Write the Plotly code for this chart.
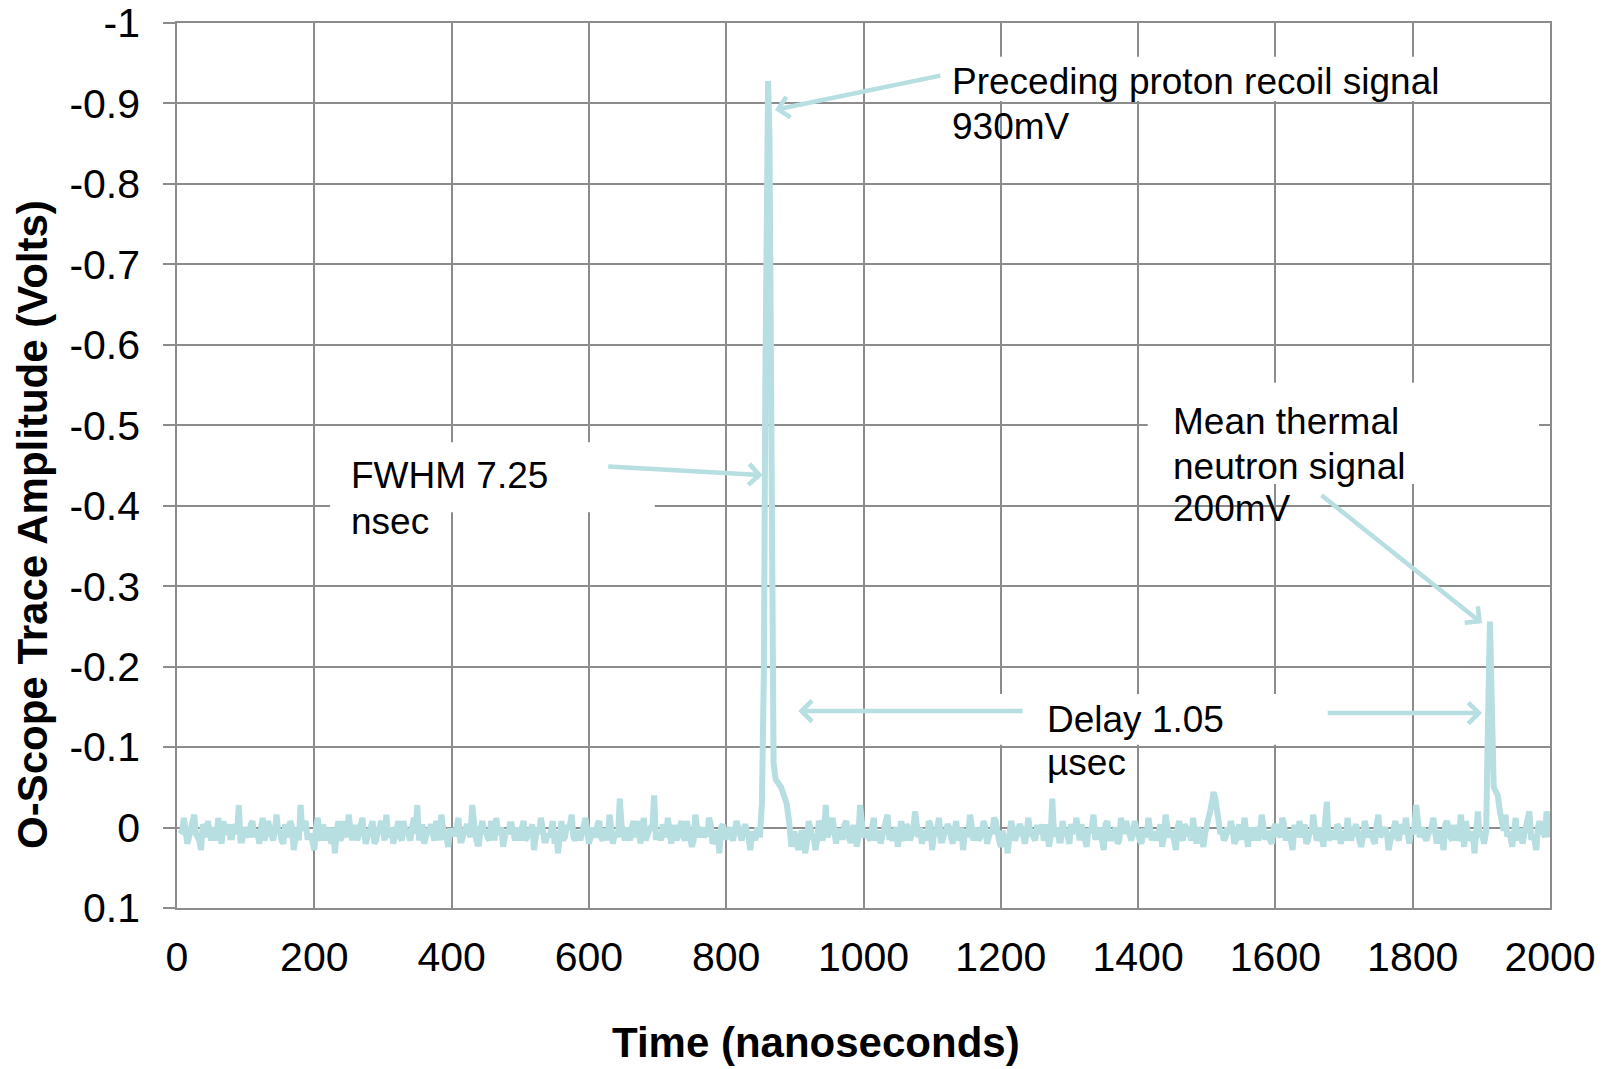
import plotly.graph_objects as go

# ---------------- data ----------------
# baseline noise, mV. Series A sampled at 5, 10, 15 ... ns; series B at 7.5, 12.5, ... ns.
# (zeros inside the two pulse windows are placeholders and are replaced by the pulses)
noise_a_start_ns = 5
noise_b_start_ns = 7.5
noise_step_ns = 5
noise_a_mv = (
    [8, -12, 20, 4, -16, 12, 28, 0, -8, 16, 4, -12, 20, 8, -4, 12, 0, -28, 16, 4]
    + [12, -8, 4, 20, -12, 8, 0, 16, -16, 4, 20, 8, -8, 28, 0, -28, -4, 12, 8, 28]
    + [-12, 16, 4, 0, 20, 32, -8, 12, 4, -16, 16, 0, 8, -12, 20, 4, -8, 16, 0, 12]
    + [-16, 8, 20, 0, 12, -8, 4, 16, -12, -28, 8, 20, 4, -4, 16, 0, -16, 12, 24, 4]
    + [8, -12, 16, 0, 4, -28, 12, 20, -8, 4, 16, 0, -12, 8, 24, 4, -4, 12, 0, 16]
    + [-8, 12, 4, 28, 0, -12, 16, 8, 4, 20, 32, -8, 12, 0, -16, 16, 4, 8, -12, 20]
    + [0, 12, -8, 16, 4, -16, 20, 8, -36, 12, 0, 16, -8, 4, 20, -12, 8, 0, -40, 12]
    + [16, 4, -12, 20, 0, 8, -8, 16, 4, 24, -16, 12, 0, 8, -12, 20, 4, 32, -4, 12]
    + [0, 16, -8, 12, 4, 4, 28, 8, 0, 0, 0, 0, 0, 0, 0, 0, 0, 0, 24, 8]
    + [28, 4, 32, -8, 12, 28, -8, 16, -28, 8, -12, 20, 4, 12, -8, 16, 0, 24, -28, 12]
    + [4, 16, -12, 8, 20, 0, -16, 12, 4, 24, -8, 16, 0, 8, -20, 12, 20, 4, -8, 28]
    + [8, -12, 16, 4, 0, 20, -8, 12, 28, 4, -16, 16, 0, 12, -8, 20, 4, -12, 8, 24]
    + [12, 32, -8, 16, 4, 0, 20, -12, 8, 16, 0, -4, 12, 24, -36, 8, 16, -8, 4, 20]
    + [0, -12, 16, 8, 24, 4, -16, 12, 0, 28, -8, 16, 4, 20, -12, 8, 0, 16, -8, 12]
    + [20, 4, -12, 16, 8, 0, 24, -16, 12, 4, 28, -8, 16, 0, 8, -12, 20, 4, 24, -8]
    + [-20, -44, -24, 8, 16, 0, -8, 20, 4, 12, -12, 24, 8, 0, 16, -16, 12, 4, 20, -4]
    + [8, -12, 16, 4, 28, 0, -8, 12, 20, 4, -16, 16, 0, 24, -32, 8, 12, -4, 20, 4]
    + [-12, 16, 0, 8, 24, -8, 12, 4, 20, -16, 8, 0, 28, 12, -8, 16, 4, -12, 20, 8]
    + [-28, 12, 0, 16, 4, -12, 20, 8, 28, -8, 12, 0, 16, -16, 24, 4, 8, 32, -20, 4]
    + [0, 0, 0, 0, 0, 0, -16, 8, 24, -12, 4, 20, 0, -20, 12, 28, -8, 4, -20, 12]
)
noise_b_mv = (
    [4, 0, 12, -8, 8, 16, -4, 12, 4, 0, 16, 8, -8, 4, 12, -4, 8, 16, 0, 8]
    + [-4, 12, 8, 0, 16, -8, 12, 4, 8, 16, -4, 12, 0, 8, 16, 4, -8, 12, 20, 0]
    + [8, -4, 16, 12, 0, 8, 16, -8, 12, 4, 0, 16, -4, 8, 12, 0, 20, 4, -8, 16]
    + [12, 0, 8, -8, 16, 4, 12, 0, 8, 16, -4, 12, 4, 8, -8, 16, 0, 12, 4, 8]
    + [0, 16, 8, -4, 12, 4, 20, 0, 8, 12, -8, 16, 4, 0, 12, 8, -4, 16, 8, 0]
    + [16, 4, -4, 12, 8, 0, 16, 12, -8, 4, 8, 16, 0, -4, 12, 8, 16, -4, 4, 12]
    + [8, -4, 12, 4, 16, 0, 8, 12, -4, 16, 8, 0, 12, -8, 8, 16, 4, 0, 12, 8]
    + [-4, 12, 8, 0, 16, 4, 12, -8, 8, 16, 0, 4, 12, 8, -4, 16, 8, 0, 12, 4]
    + [12, 4, 0, 16, -4, 12, 8, 16, 0, 0, 0, 0, 0, 0, 0, 0, 0, 0, 8, 16]
    + [16, 8, 20, 0, 12, 16, -4, 8, 12, 0, 16, 4, 12, -4, 8, 16, 0, 12, -8, 8]
    + [12, 0, 16, 4, 8, -8, 12, 16, 0, 8, 12, -4, 16, 4, 8, 0, 12, 16, -4, 8]
    + [0, 16, 8, -4, 12, 4, 16, 0, 8, 12, -4, 8, 16, 4, 0, 12, 8, -8, 16, 4]
    + [16, 8, 0, 12, -4, 16, 8, 4, 12, 0, 8, 16, -4, 12, 8, 0, 16, 4, 12, -4]
    + [8, 12, -4, 16, 4, 0, 12, 8, 16, -4, 8, 12, 0, 16, 4, -8, 12, 8, 0, 16]
    + [4, 12, 0, 8, 16, -4, 12, 4, 8, 16, 0, 12, -4, 8, 16, 4, 0, 12, 8, -12]
    + [-36, -36, -8, 4, 12, 8, 0, 16, -4, 12, 8, 0, 16, 4, 8, -4, 12, 16, 0, 8]
    + [12, -4, 8, 16, 0, 12, 4, -4, 16, 8, 0, 12, 8, -8, 16, 4, 12, 0, 8, 16]
    + [4, 8, -4, 16, 12, 0, 8, 16, -4, 12, 4, 8, 16, 0, 12, -4, 8, 16, 4, 0]
    + [-8, 4, 12, 8, 0, 16, 4, 12, -4, 8, 16, 0, 12, 4, -8, 16, 8, 0, 12, 4]
    + [0, 0, 0, 0, 0, 4, 8, 12, -4, 16, 4, 8, -8, 12, 16, 0, 8, 12, -4, 8]
)

# proton recoil pulse (V)
peak1_t = [849, 852, 855, 857, 859, 861, 863, 865, 867, 869, 872, 876, 880, 884, 888, 892]
peak1_v = [0.012, -0.03, -0.2, -0.55, -0.87, -0.928, -0.86, -0.55, -0.22, -0.08,
           -0.06, -0.055, -0.05, -0.04, -0.03, -0.005]
peak1_window = (847, 893)

# thermal neutron pulse (V)
peak2_t = [1904, 1907, 1909, 1911, 1912.5, 1914, 1916, 1918, 1921, 1924, 1927, 1931]
peak2_v = [0.02, 0.005, -0.1, -0.22, -0.256, -0.2, -0.08, -0.05, -0.045, -0.04, -0.02, 0.0]
peak2_window = (1902, 1932)

x_tick_vals = [0, 200, 400, 600, 800, 1000, 1200, 1400, 1600, 1800, 2000]
y_tick_vals = [-1, -0.9, -0.8, -0.7, -0.6, -0.5, -0.4, -0.3, -0.2, -0.1, 0, 0.1]
y_tick_text = ["-1", "-0.9", "-0.8", "-0.7", "-0.6", "-0.5", "-0.4", "-0.3", "-0.2", "-0.1", "0", "0.1"]

x_title = "Time (nanoseconds)"
y_title = "O-Scope Trace Amplitude (Volts)"

# ---------------- build trace ----------------
def in_windows(t):
    return peak1_window[0] <= t <= peak1_window[1] or peak2_window[0] <= t <= peak2_window[1]

pts = []
for start, series in ((noise_a_start_ns, noise_a_mv), (noise_b_start_ns, noise_b_mv)):
    for i, mv in enumerate(series):
        t = start + i * noise_step_ns
        if t > 2000 or in_windows(t):
            continue
        pts.append((t, mv / 1000.0))
pts += list(zip(peak1_t, peak1_v)) + list(zip(peak2_t, peak2_v))
pts.sort()
tx = [p[0] for p in pts]
ty = [p[1] for p in pts]

TEAL = "#B7DEE0"
GRID = "#8C8C8C"
FONT = "Liberation Sans, Arial, sans-serif"

fig = go.Figure()
fig.add_trace(go.Scatter(x=tx, y=ty, mode="lines",
                         line=dict(color=TEAL, width=6), showlegend=False,
                         hoverinfo="skip"))

# white text boxes (hide gridlines, sit under the trace)
boxes = [
    (1104, 1869, -0.958, -0.903),
    (223, 696, -0.479, -0.392),
    (1184, 1674, -0.166, -0.103),
    (1414, 1984, -0.553, -0.427),
]
shapes = []
for x0, x1, y0, y1 in boxes:
    shapes.append(dict(type="rect", xref="x", yref="y", x0=x0, x1=x1, y0=y0, y1=y1,
                       fillcolor="white", line=dict(width=0), layer="between"))

annotations = []
texts = [
    ("Preceding proton recoil signal", 1128, -0.927),
    ("930mV", 1128, -0.871),
    ("FWHM 7.25", 252, -0.437),
    ("nsec", 252, -0.380),
    ("Mean thermal", 1449, -0.505),
    ("neutron signal", 1449, -0.449),
    ("200mV", 1449, -0.396),
    ("Delay 1.05", 1266, -0.134),
    ("µsec", 1266, -0.081),
]
for txt, x, y in texts:
    annotations.append(dict(text=txt, x=x, y=y, xref="x", yref="y", xanchor="left",
                            yanchor="middle", showarrow=False, borderpad=0,
                            font=dict(family=FONT, size=37, color="black")))

arrows = [
    # tip x, tip y, tail x, tail y
    (871, -0.892, 1114, -0.935),
    (853, -0.438, 626, -0.449),
    (1901, -0.254, 1665, -0.4145),
    (905, -0.1448, 1234, -0.1448),
    (1901, -0.1423, 1674, -0.1423),
]
for x, y, ax, ay in arrows:
    annotations.append(dict(text="", x=x, y=y, ax=ax, ay=ay, xref="x", yref="y",
                            axref="x", ayref="y", showarrow=True, arrowhead=4,
                            arrowsize=0.9, arrowwidth=4.5, arrowcolor=TEAL,
                            standoff=0, startstandoff=0))

# axis titles placed as in the reference (offset from the plot centre)
annotations.append(dict(text="<b>" + x_title + "</b>", xref="paper", yref="paper",
                        x=0.4654, y=-0.1797, xanchor="center", yanchor="bottom",
                        showarrow=False, borderpad=0,
                        font=dict(family=FONT, size=42, color="black")))
annotations.append(dict(text="<b>" + y_title + "</b>", xref="paper", yref="paper",
                        x=-0.1049, y=0.4339, xanchor="center", yanchor="middle",
                        textangle=-90, showarrow=False,
                        font=dict(family=FONT, size=42, color="black")))

fig.update_layout(
    width=1614, height=1069,
    margin=dict(l=177, r=64, t=23, b=161),
    paper_bgcolor="white", plot_bgcolor="white",
    font=dict(family=FONT, color="black"),
    shapes=shapes, annotations=annotations,
    showlegend=False,
)
fig.update_xaxes(
    range=[0, 2000], tickvals=x_tick_vals, ticks="", automargin=False,
    showgrid=True, gridcolor=GRID, gridwidth=1.5,
    showline=True, linecolor=GRID, linewidth=1.5, mirror=True,
    zeroline=False, tickfont=dict(family=FONT, size=41, color="black"),
    ticklabelstandoff=12,
)
fig.update_yaxes(
    range=[0.1, -1], tickvals=y_tick_vals, ticktext=y_tick_text, automargin=False,
    ticks="outside", ticklen=12, tickwidth=1.5, tickcolor=GRID,
    showgrid=True, gridcolor=GRID, gridwidth=1.5,
    showline=True, linecolor=GRID, linewidth=1.5, mirror=True,
    zeroline=False, tickfont=dict(family=FONT, size=41, color="black"),
    ticklabelstandoff=15,
)

fig.write_html("out.html", config={"displayModeBar": False},
               post_script="document.body.style.margin='0';")
